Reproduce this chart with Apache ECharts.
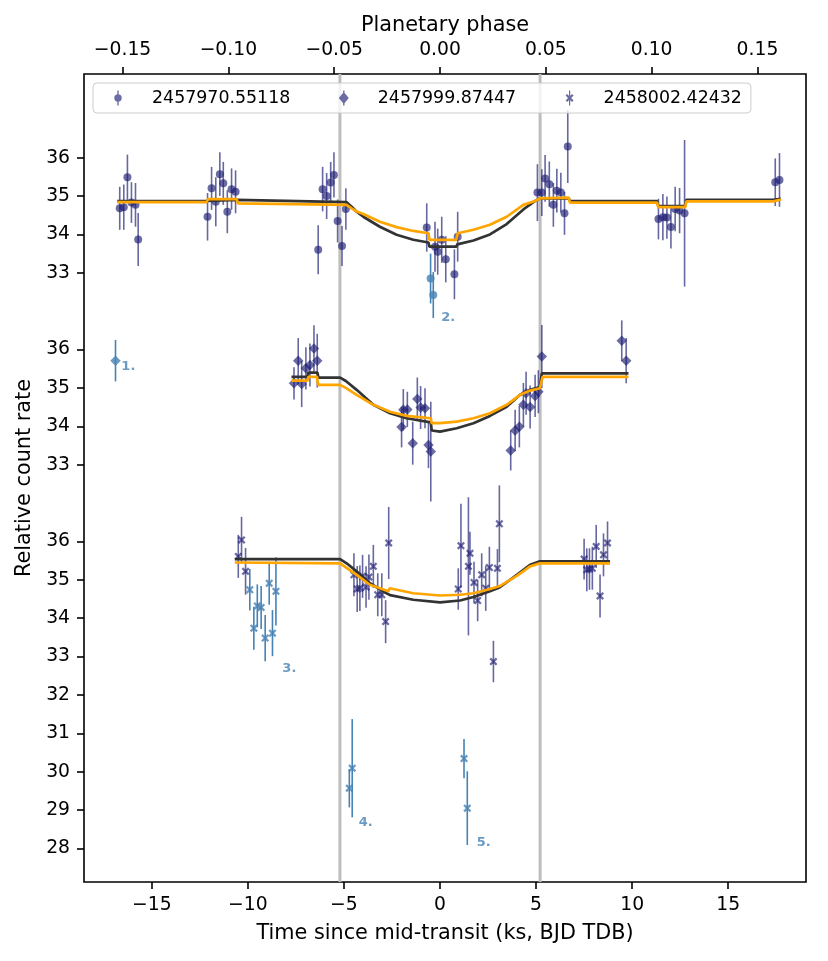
<!DOCTYPE html>
<html>
<head>
<meta charset="utf-8">
<script src="https://cdn.jsdelivr.net/npm/echarts@6/dist/echarts.min.js"></script>
<style>
    html, body { margin: 0; padding: 0; background: #fff; }
    #chart { width: 828px; height: 961px; }
</style>
</head>
<body>
<div id="chart"></div>
<script>
;(function () {

    'use strict';

    // time axis limits (ks) and period used for the phase axis
    var PERIOD = 110.15;
    var T_MIN = -18.53, T_MAX = 19.05;
    var Y_MIN = 27.125, Y_MAX = 48.18;

    var visitNames = ['2457970.55118', '2457999.87447', '2458002.42432'];
    var visitOffsets = [10, 5, 0];

    // [time ks, relative count rate, error]
    var visit1 = [
        [-16.67, 34.68, 0.56], [-16.46, 34.71, 0.59], [-16.27, 35.49, 0.59], [-16.06, 34.83, 0.53], [-15.85, 34.77, 0.57], [-15.71, 33.87, 0.69],
        [-12.10, 34.46, 0.62], [-11.89, 35.20, 0.56], [-11.67, 34.85, 0.64], [-11.46, 35.57, 0.57], [-11.28, 35.33, 0.56], [-11.07, 34.59, 0.56], [-10.85, 35.18, 0.54], [-10.64, 35.11, 0.56],
        [-6.34, 33.60, 0.64], [-6.11, 35.18, 0.58], [-5.90, 35.00, 0.60], [-5.69, 35.35, 0.54], [-5.52, 35.55, 0.59], [-5.33, 34.35, 0.56], [-5.10, 33.70, 0.52], [-4.90, 34.66, 0.54],
        [-0.69, 34.18, 0.63], [-0.26, 33.68, 0.65], [-0.12, 33.55, 0.60], [0.09, 33.86, 0.60], [0.30, 33.35, 0.60], [0.75, 32.96, 0.65], [0.92, 33.94, 0.65],
        [5.07, 35.09, 0.74], [5.30, 35.09, 0.61], [5.47, 35.46, 0.61], [5.69, 35.31, 0.59], [5.90, 34.77, 0.57], [6.08, 35.14, 0.57], [6.29, 35.09, 0.52], [6.48, 34.55, 0.56], [6.65, 36.29, 0.95],
        [11.37, 34.40, 0.53], [11.60, 34.45, 0.60], [11.81, 34.44, 0.55], [12.02, 34.19, 0.56], [12.24, 34.66, 0.58], [12.47, 34.62, 0.59], [12.73, 34.55, 1.91],
        [17.45, 35.36, 0.62], [17.67, 35.42, 0.70]
    ];
    var visit1Out = [[-0.49, 32.85, 0.65], [-0.35, 32.42, 0.60]];

    var visit2 = [
        [-7.60, 35.12, 0.42], [-7.38, 35.71, 0.59], [-7.20, 35.10, 0.60], [-6.98, 35.51, 0.55], [-6.77, 35.60, 0.56], [-6.56, 36.03, 0.60], [-6.39, 35.71, 0.70],
        [-2.00, 33.98, 0.53], [-1.91, 34.43, 0.54], [-1.70, 34.44, 0.46], [-1.42, 33.56, 0.56], [-1.18, 34.71, 0.56], [-1.01, 34.49, 0.56], [-0.78, 34.47, 0.52], [-0.60, 33.51, 0.60], [-0.48, 33.34, 1.30],
        [3.68, 33.37, 0.52], [3.91, 33.89, 0.54], [4.13, 33.99, 0.54], [4.34, 34.56, 0.57], [4.48, 34.86, 0.56], [4.69, 34.50, 0.56], [4.95, 34.79, 0.55], [5.12, 34.90, 0.56], [5.30, 35.82, 0.82],
        [9.46, 36.23, 0.53], [9.69, 35.71, 0.59]
    ];
    var visit2Out = [[-16.89, 35.71, 0.54]];

    var visit3 = [
        [-10.50, 35.61, 0.56], [-10.33, 36.04, 0.60], [-10.12, 35.22, 0.61],
        [-4.48, 35.13, 0.56], [-4.31, 34.76, 0.60], [-4.17, 34.78, 0.59], [-4.03, 35.09, 0.56], [-3.85, 34.81, 0.54], [-3.70, 35.07, 0.59], [-3.47, 35.35, 0.56], [-3.24, 34.61, 0.56], [-3.03, 34.61, 0.56], [-2.83, 33.91, 0.56], [-2.67, 35.96, 0.94],
        [0.95, 34.76, 0.54], [1.09, 35.89, 1.09], [1.48, 35.35, 1.80], [1.56, 35.69, 0.56], [1.77, 34.93, 0.54], [1.96, 34.46, 0.54], [2.17, 35.13, 0.56], [2.38, 34.78, 0.59], [2.57, 35.32, 0.54], [2.78, 32.87, 0.54], [2.99, 35.30, 0.50], [3.09, 36.46, 1.00],
        [7.50, 35.54, 0.53], [7.64, 35.26, 0.56], [7.78, 35.28, 0.54], [7.93, 35.30, 0.56], [8.13, 35.87, 0.56], [8.33, 34.58, 0.56], [8.51, 35.65, 0.56], [8.72, 35.96, 0.56]
    ];
    var visit3Out = [
        [-9.90, 34.74, 0.54], [-9.69, 33.74, 0.56], [-9.51, 34.32, 0.56], [-9.31, 34.28, 0.56], [-9.10, 33.48, 0.60], [-8.89, 34.91, 0.56], [-8.72, 33.61, 0.60], [-8.54, 34.70, 0.89],
        [-4.72, 29.57, 0.50], [-4.57, 30.09, 1.28], [1.25, 30.34, 0.51], [1.42, 29.05, 0.96]
    ];

    // fitted models, black and orange, per visit
    var model1Black = [
        [-16.80, 34.87], [-12.15, 34.87], [-12.08, 34.90], [-10.58, 34.90], [-10.52, 34.87], [-4.86, 34.84], [-4.60, 34.72], [-4.34, 34.59], [-3.99, 34.46],
        [-3.13, 34.20], [-2.26, 33.99], [-1.39, 33.86], [-0.60, 33.79], [-0.55, 33.68], [0.85, 33.68], [0.90, 33.74], [1.74, 33.84], [2.60, 34.00], [3.47, 34.27],
        [4.34, 34.65], [4.95, 34.87], [5.20, 34.94], [6.70, 34.94], [6.76, 34.87], [11.30, 34.87], [11.36, 34.74], [12.76, 34.74], [12.82, 34.90], [17.35, 34.90], [17.42, 34.93], [17.75, 34.93]
    ];
    var model1Orange = [
        [-16.80, 34.84], [-12.15, 34.84], [-12.08, 34.92], [-10.58, 34.92], [-10.52, 34.81], [-4.86, 34.77], [-4.60, 34.68], [-4.34, 34.60], [-3.99, 34.53],
        [-3.13, 34.33], [-2.26, 34.19], [-1.39, 34.09], [-0.60, 34.03], [-0.55, 33.86], [0.85, 33.86], [0.92, 34.03], [1.74, 34.12], [2.60, 34.25], [3.47, 34.46],
        [4.34, 34.77], [4.95, 34.87], [5.20, 34.94], [6.70, 34.96], [6.76, 34.83], [11.30, 34.83], [11.36, 34.71], [12.76, 34.71], [12.82, 34.86], [17.35, 34.86], [17.42, 34.91], [17.75, 34.91]
    ];
    var model2Black = [
        [-7.73, 35.29], [-6.90, 35.29], [-6.85, 35.40], [-6.38, 35.40], [-6.33, 35.27], [-5.20, 35.27], [-4.90, 35.18], [-4.34, 34.95], [-3.47, 34.56], [-2.60, 34.34],
        [-1.74, 34.21], [-0.48, 34.10], [-0.43, 33.89], [0.00, 33.86], [0.87, 33.95], [1.74, 34.08], [2.60, 34.27], [3.47, 34.51], [4.17, 34.82], [4.69, 34.95],
        [5.20, 35.02], [5.30, 35.38], [9.81, 35.38]
    ];
    var model2Orange = [
        [-7.73, 35.19], [-6.90, 35.19], [-6.85, 35.29], [-6.40, 35.29], [-6.35, 35.08], [-5.20, 35.08], [-4.90, 35.00], [-4.34, 34.82], [-3.47, 34.56], [-2.60, 34.38],
        [-1.74, 34.27], [-0.48, 34.21], [-0.43, 34.08], [0.00, 34.08], [0.87, 34.12], [1.74, 34.21], [2.60, 34.34], [3.47, 34.56], [4.17, 34.82], [4.69, 34.93],
        [5.20, 34.99], [5.34, 35.29], [9.81, 35.29]
    ];
    var model3Black = [
        [-10.68, 35.54], [-5.20, 35.54], [-4.86, 35.43], [-4.34, 35.22], [-3.65, 34.91], [-2.78, 34.65], [-2.60, 34.60], [-1.39, 34.48], [0.00, 34.41], [1.04, 34.46],
        [1.74, 34.55], [2.60, 34.70], [3.10, 34.80], [3.15, 34.76], [4.00, 35.13], [4.69, 35.39], [5.20, 35.48], [8.85, 35.48]
    ];
    var model3Orange = [
        [-10.68, 35.45], [-5.20, 35.43], [-4.34, 35.13], [-3.65, 34.87], [-2.68, 34.70], [-2.62, 34.78], [-1.39, 34.65], [0.00, 34.59], [1.04, 34.61],
        [1.74, 34.65], [2.60, 34.76], [3.13, 34.84], [4.00, 35.10], [4.69, 35.35], [5.20, 35.43], [8.85, 35.43]
    ];

    var transitEdges = [-5.21, 5.21];

    // outlier labels: [time, plotted y, text]
    var notes = [[-16.56, 40.55, '1.'], [0.09, 41.81, '2.'], [-8.18, 32.66, '3.'], [-4.20, 28.66, '4.'], [1.94, 28.14, '5.']];

    var timeTicks = [-15, -10, -5, 0, 5, 10, 15];
    var phaseTicks = [-0.15, -0.10, -0.05, 0, 0.05, 0.10, 0.15];
    var yTicksTop = [33, 34, 35, 36];
    var yTicksMid = [33, 34, 35, 36];
    var yTicksBottom = [28, 29, 30, 31, 32, 33, 34, 35, 36];

    var NAVY = 'rgba(25,25,112,0.8)';
    var NAVY_BAR = 'rgba(25,25,112,0.66)';
    var STEEL = '#4682b4';
    var FONT = 'DejaVu Sans';

    var xPath = 'path://M0,2L2,0L5,3L8,0L10,2L7,5L10,8L8,10L5,7L2,10L0,8L3,5Z';
    // legend icons drawn in a 54x18 box (tiny corner specks fix the box)
    var box = 'M0,0L0.01,0L0.01,0.01Z M53.99,17.99L54,17.99L54,18Z ';
    var legendIcons = [
        'path://' + box + 'M24.3,1.5h1.4v15h-1.4z M25,5.3a3.7,3.7 0 1,1 0,7.4a3.7,3.7 0 1,1 0,-7.4z',
        'path://' + box + 'M24.3,1.5h1.4v15h-1.4z M25,3L30,9L25,15L20,9z',
        'path://' + box + 'M24.4,1.5h1.2v15h-1.2z M21,6.6L22.6,5L25,7.4L27.4,5L29,6.6L26.6,9L29,11.4L27.4,13L25,10.6L22.6,13L21,11.4L23.4,9Z'
    ];
    var symbols = ['circle', 'diamond', xPath];
    var symbolSizes = [8, 10.5, 8];

    var minus = function (v, digits) {
        var s = Math.abs(v).toFixed(digits);
        return v < -1e-9 ? '\u2212' + s : s;
    };

    var yTickValues = yTicksTop.map(function (v) { return v + visitOffsets[0]; })
        .concat(yTicksMid.map(function (v) { return v + visitOffsets[1]; }))
        .concat(yTicksBottom.map(function (v) { return v + visitOffsets[2]; }));

    var yLabel = function (v) {
        if (v > 42.5) { return String(Math.round(v - visitOffsets[0])); }
        if (v > 37.5) { return String(Math.round(v - visitOffsets[1])); }
        return String(Math.round(v - visitOffsets[2]));
    };

    var errorSeries = function (name, pts, offset, color, z) {
        return {
            name: name, type: 'custom', z: z, silent: true,
            data: pts.map(function (p) { return [p[0], p[1] + offset - p[2], p[1] + offset + p[2]]; }),
            encode: { x: 0, y: [1, 2] },
            renderItem: function (params, api) {
                var a = api.coord([api.value(0), api.value(1)]);
                var b = api.coord([api.value(0), api.value(2)]);
                return {
                    type: 'line',
                    shape: { x1: a[0], y1: a[1], x2: b[0], y2: b[1] },
                    style: { stroke: color, lineWidth: 1.6 }
                };
            }
        };
    };

    var markerSeries = function (name, pts, offset, symbol, size, color, z) {
        return {
            name: name, type: 'scatter', z: z, silent: true,
            symbol: symbol, symbolSize: size,
            itemStyle: { color: color },
            data: pts.map(function (p) { return [p[0], p[1] + offset]; })
        };
    };

    var modelSeries = function (name, pts, offset, color, z) {
        return {
            name: name, type: 'line', z: z, silent: true,
            showSymbol: false, symbol: 'none',
            lineStyle: { color: color, width: 2.7 },
            data: pts.map(function (p) { return [p[0], p[1] + offset]; })
        };
    };

    var visits = [visit1, visit2, visit3];
    var outliers = [visit1Out, visit2Out, visit3Out];
    var blackModels = [model1Black, model2Black, model3Black];
    var orangeModels = [model1Orange, model2Orange, model3Orange];

    var series = [];

    // grey ingress / egress markers
    series.push({
        name: 'edges', type: 'custom', z: 1, silent: true,
        data: transitEdges.map(function (t) { return [t]; }),
        encode: { x: 0 },
        renderItem: function (params, api) {
            var a = api.coord([api.value(0), Y_MIN]);
            var b = api.coord([api.value(0), Y_MAX]);
            return {
                type: 'line',
                shape: { x1: a[0], y1: a[1], x2: b[0], y2: b[1] },
                style: { stroke: '#bdbdbd', lineWidth: 3 }
            };
        }
    });

    visits.forEach(function (pts, i) {
        var off = visitOffsets[i];
        series.push(errorSeries('err' + i, pts, off, NAVY_BAR, 2));
        series.push(errorSeries('errOut' + i, outliers[i], off, STEEL, 2));
        series.push(markerSeries(visitNames[i], pts, off, symbols[i], symbolSizes[i], NAVY, 3));
        series.push(markerSeries('out' + i, outliers[i], off, symbols[i], symbolSizes[i], STEEL, 3));
    });

    visits.forEach(function (pts, i) {
        series.push(modelSeries('black' + i, blackModels[i], visitOffsets[i], '#333333', 4));
    });
    visits.forEach(function (pts, i) {
        series.push(modelSeries('orange' + i, orangeModels[i], visitOffsets[i], '#ffa500', 4));
    });

    series.push({
        name: 'notes', type: 'scatter', z: 5, silent: true,
        symbolSize: 1,
        itemStyle: { color: 'transparent' },
        label: {
            show: true, position: [0, 0], align: 'left', verticalAlign: 'middle',
            color: STEEL, fontWeight: 'bold', fontSize: 13, fontFamily: FONT
        },
        data: notes.map(function (n) {
            return { value: [n[0], n[1]], label: { formatter: n[2] } };
        })
    });

    var axisText = { color: '#000', fontSize: 18.75, fontFamily: FONT };
    var nameText = { color: '#000', fontSize: 20.8, fontFamily: FONT };
    var tickStyle = { color: '#000', width: 1.6 };

    var option = {
        animation: false,
        backgroundColor: '#fff',
        textStyle: { fontFamily: FONT },
        grid: {
            left: 84, right: 22, top: 74, bottom: 79,
            show: true, borderColor: '#000', borderWidth: 1.6, backgroundColor: 'transparent'
        },
        legend: {
            z: 10,
            left: 93, top: 83,
            itemWidth: 54, itemHeight: 18, itemGap: 28.5,
            symbolKeepAspect: false,
            padding: [6, 9, 6, 0],
            borderColor: '#cccccc', borderWidth: 1, borderRadius: 4,
            backgroundColor: 'rgba(255,255,255,0.8)',
            selectedMode: false,
            textStyle: { color: '#000', fontSize: 17.4, fontFamily: FONT },
            data: visitNames.map(function (n, i) {
                return { name: n, icon: legendIcons[i], itemStyle: { color: NAVY } };
            })
        },
        xAxis: [{
            type: 'value', position: 'bottom', min: T_MIN, max: T_MAX,
            name: 'Time since mid-transit (ks, BJD TDB)', nameLocation: 'middle', nameGap: 41,
            nameTextStyle: nameText,
            axisLine: { show: false, onZero: false },
            axisTick: { show: true, customValues: timeTicks, length: 7, lineStyle: tickStyle },
            axisLabel: {
                customValues: timeTicks, margin: 14,
                formatter: function (v) { return minus(v, 0); }
            },
            splitLine: { show: false }
        }, {
            type: 'value', position: 'top', min: T_MIN / PERIOD, max: T_MAX / PERIOD,
            name: 'Planetary phase', nameLocation: 'middle', nameGap: 35,
            nameTextStyle: nameText,
            axisLine: { show: false, onZero: false },
            axisTick: { show: true, customValues: phaseTicks, length: 7, lineStyle: tickStyle },
            axisLabel: {
                customValues: phaseTicks, margin: 14,
                formatter: function (v) { return minus(v, 2); }
            },
            splitLine: { show: false }
        }],
        yAxis: {
            type: 'value', min: Y_MIN, max: Y_MAX,
            name: 'Relative count rate', nameLocation: 'middle', nameGap: 49,
            nameTextStyle: nameText,
            axisLine: { show: false, onZero: false },
            axisTick: { show: true, customValues: yTickValues, length: 7, lineStyle: tickStyle },
            axisLabel: { customValues: yTickValues, margin: 14, formatter: yLabel },
            splitLine: { show: false }
        },
        series: series
    };

    option.xAxis[0].axisLabel = Object.assign(option.xAxis[0].axisLabel, axisText);
    option.xAxis[1].axisLabel = Object.assign(option.xAxis[1].axisLabel, axisText);
    option.yAxis.axisLabel = Object.assign(option.yAxis.axisLabel, axisText);

    var chart = echarts.init(document.getElementById('chart'), null, { renderer: 'canvas' });
    chart.setOption(option);

}());
</script>
</body>
</html>
